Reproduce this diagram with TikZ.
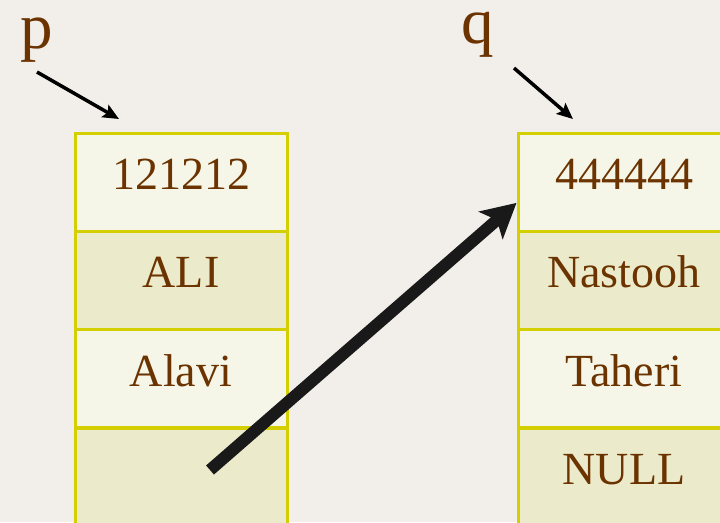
\documentclass[tikz,border=0pt]{standalone}
\usepackage{fontspec}
\setmainfont{Liberation Serif}
\usepackage{tikz}
\usetikzlibrary{arrows.meta}

\definecolor{bgcol}{HTML}{F2EFEA}
\definecolor{lightcell}{HTML}{F5F5E8}
\definecolor{darkcell}{HTML}{EBEACB}
\definecolor{cellline}{HTML}{D3CF00}
\definecolor{brownish}{HTML}{6B3300}

\tikzset{
    cell/.style={shape=rectangle,draw=cellline,line width=3pt,minimum width=212pt,minimum height=98pt,
        inner sep=0pt,text height=32pt,text depth=17pt,text=brownish,font=\fontsize{46}{55}\selectfont},
    light/.style={cell,fill=lightcell},
    dark/.style={cell,fill=darkcell},
    lbl/.style={anchor=base,inner sep=0pt,text=brownish,font=\fontsize{65}{78}\selectfont}
}

\begin{document}
\begin{tikzpicture}[x=1pt,y=-1pt]
    \clip (0,0) rectangle (720,522);
    \fill[bgcol] (0,0) rectangle (720,522);
    \node[light] (p1) at (181,182) {121212};
    \node[dark] (p2) at (181,280) {ALI};
    \node[light] (p3) at (181,378.5) {Alavi};
    \node[dark] (p4) at (181,477) {};
    \node[light] (q1) at (624,182) {444444};
    \node[dark] (q2) at (624,280) {Nastooh};
    \node[light] (q3) at (624,378.5) {Taheri};
    \node[dark] (q4) at (624,477) {NULL};
    \node[lbl] (p) at (37,48) {p};
    \node[lbl] (q) at (478,43) {q};
    \coordinate (ptip) at (119,119);
    \coordinate (qtip) at (573,119);
    \path [-{Stealth[length=16pt,width=14pt,inset=3pt]},line width=3.5pt] ([yshift=-10pt]p.south) edge (ptip);
    \path [-{Stealth[length=16pt,width=14pt,inset=3pt]},line width=3.5pt] ([shift={(36pt,-11pt)}]q.south) edge (qtip);
    \path [-{Stealth[length=34pt,width=36pt,inset=8pt]},line width=12pt,color=black!90] ([shift={(29pt,7pt)}]p4.center) edge (q1.191);
\end{tikzpicture}
\end{document}
